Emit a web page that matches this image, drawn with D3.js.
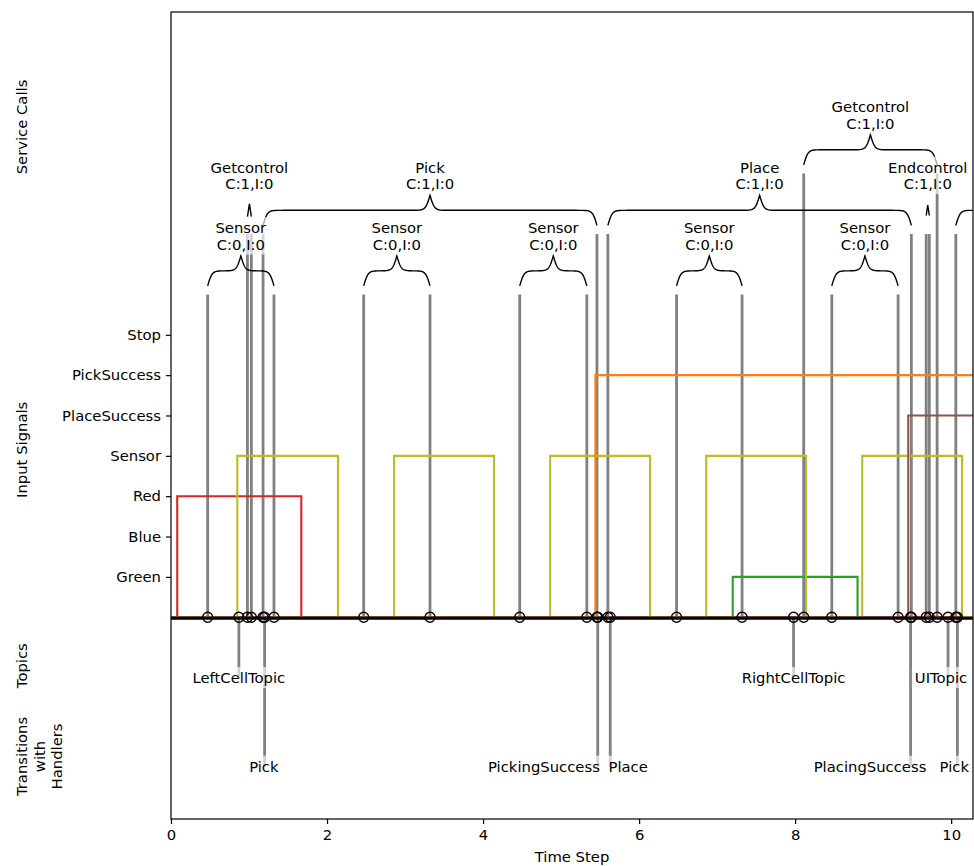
<!DOCTYPE html>
<meta charset="utf-8">
<style>
html, body { margin: 0; padding: 0; background: #fff; }
svg { display: block; font-family: "DejaVu Sans", sans-serif; }
text { font-size: 14.8px; fill: #000; }
</style>
<svg width="974" height="866"></svg>
<script src="https://cdn.jsdelivr.net/npm/d3@7"></script>
<script>
// input signals, one level per y tick
const signalNames = ['Green', 'Blue', 'Red', 'Sensor', 'PlaceSuccess', 'PickSuccess', 'Stop'];
const signalLevels = [1, 2, 3, 4, 5, 6, 7];
// on intervals [rise, fall] of every signal
const greenOn = [[7.2, 8.8]];
const blueOn = [];
const redOn = [[0.08, 1.67]];
const sensorOn = [[0.85, 2.14], [2.86, 4.14], [4.86, 6.14], [6.86, 8.14], [8.86, 10.14]];
const placeSuccessOn = [[9.45, 12]];
const pickSuccessOn = [[5.44, 12]];
const stopOn = [];

// service calls
const callNames = ['Sensor', 'Getcontrol', 'Pick', 'Sensor', 'Sensor', 'Place', 'Sensor', 'Getcontrol', 'Sensor', 'Endcontrol', 'Pick'];
const callStart = [0.47, 0.98, 1.18, 2.47, 4.47, 5.60, 6.48, 8.11, 8.47, 9.68, 10.06];
const callEnd = [1.32, 1.03, 5.46, 3.32, 5.33, 9.49, 7.32, 9.82, 9.32, 9.72, 14.4];
const callTop = [8, 9.5, 9.5, 8, 8, 9.5, 8, 11, 8, 9.5, 9.5];
const callC = [0, 1, 1, 0, 0, 1, 0, 1, 0, 1, 1];
const callI = [0, 0, 0, 0, 0, 0, 0, 0, 0, 0, 0];

// topics
const topicNames = ['LeftCellTopic', 'RightCellTopic', 'UITopic'];
const topicTimes = [0.87, 7.98, 9.96];
const topicLabelX = [0.87, 7.98, 9.87];

// transitions with handlers
const transNames = ['Pick', 'PickingSuccess', 'Place', 'PlacingSuccess', 'Pick'];
const transTimes = [1.20, 5.47, 5.63, 9.48, 10.08];
const transLabelX = [1.19, 4.78, 5.86, 8.96, 10.04];

const xTicks = [0, 2, 4, 6, 8, 10];

const svg = d3.select('svg');
const margin = { top: 12, right: 1, bottom: 47, left: 171 };
const width = +svg.attr('width') - margin.left - margin.right;
const height = +svg.attr('height') - margin.top - margin.bottom;

const x = d3.scaleLinear().domain([0, 10.28]).range([0, width]);
const y = d3.scaleLinear().domain([-5, 15]).range([height, 0]);

const g = svg.append('g').attr('transform', `translate(${margin.left},${margin.top})`);

svg.append('defs').append('clipPath').attr('id', 'plot')
  .append('rect').attr('width', width).attr('height', height);

const plot = g.append('g').attr('clip-path', 'url(#plot)');

const topicY = -1.5, transY = -3.7;

// event lines
const calls = callNames.map((n, i) => ({ name: n, a: callStart[i], b: callEnd[i], top: callTop[i], c: callC[i], e: callI[i] }));
const vlines = [];
calls.forEach(d => { vlines.push([d.a, d.top]); vlines.push([d.b, d.top]); });
topicTimes.forEach(t => vlines.push([t, topicY]));
transTimes.forEach(t => vlines.push([t, transY]));

plot.append('g')
  .selectAll('line')
  .data(vlines)
  .join('line')
  .attr('x1', d => x(d[0]))
  .attr('x2', d => x(d[0]))
  .attr('y1', y(0))
  .attr('y2', d => y(d[1]))
  .attr('stroke', 'gray')
  .attr('stroke-width', 2.8);

// signal step lines
const signalOn = [greenOn, blueOn, redOn, sensorOn, placeSuccessOn, pickSuccessOn, stopOn];
const stepColors = ['#2ca02c', '#1f77b4', '#d62728', '#bcbd22', '#8c564b', '#ff7f0e', '#e377c2'];
function stepPoints(intervals, level) {
  const pts = [[0, 0]];
  intervals.forEach(([a, b]) => { pts.push([a, 0], [a, level], [b, level], [b, 0]); });
  pts.push([12, 0]);
  return pts;
}
const line = d3.line().x(d => x(d[0])).y(d => y(d[1]));
const drawOrder = [1, 6, 0, 2, 3, 5, 4];
drawOrder.forEach(i => {
  plot.append('path')
    .attr('d', line(stepPoints(signalOn[i], signalLevels[i])))
    .attr('fill', 'none')
    .attr('stroke', stepColors[i])
    .attr('stroke-width', 2.1);
});

// baseline
plot.append('line')
  .attr('x1', 0).attr('x2', width)
  .attr('y1', y(0) + 1).attr('y2', y(0) + 1)
  .attr('stroke', '#000')
  .attr('stroke-width', 3);

// event markers
const marks = [];
calls.forEach(d => { marks.push(d.a, d.b); });
topicTimes.forEach(t => marks.push(t));
transTimes.forEach(t => marks.push(t));
plot.append('g')
  .selectAll('circle')
  .data(marks)
  .join('circle')
  .attr('cx', d => x(d))
  .attr('cy', y(0))
  .attr('r', 5)
  .attr('fill', 'none')
  .attr('stroke', '#000')
  .attr('stroke-width', 1.3);

// curly braces over each call
const beta = 36, amp = 0.745;
const sig = v => 1 / (1 + Math.exp(-v));
function bracePoints(x0, x1, base) {
  const n = (x1 - x0) < 0.1 ? 3 : 301;
  const xs = d3.range(n).map(i => x0 + (x1 - x0) * i / (n - 1));
  const xh = xs.slice(0, Math.floor(n / 2) + 1);
  const xa = xh[0], xb = xh[xh.length - 1];
  const yh = xh.map(v => sig(beta * (v - xa)) + sig(beta * (v - xb)));
  const ys = yh.concat(yh.slice(0, -1).reverse());
  return xs.map((v, i) => [v, base + amp * ys[i]]);
}
plot.append('g')
  .selectAll('path')
  .data(calls)
  .join('path')
  .attr('d', d => line(bracePoints(d.a, d.b, d.top - 0.16)))
  .attr('fill', 'none')
  .attr('stroke', '#000')
  .attr('stroke-width', 1.4);

// text with a translucent white box
function boxedText(parent, px, py, lines) {
  const t = parent.append('g');
  const txt = t.append('text').attr('text-anchor', 'middle');
  lines.forEach((s, i) => {
    txt.append('tspan')
      .attr('x', px)
      .attr('y', py - (lines.length - 1 - i) * 16.5)
      .attr('dy', '0.35em')
      .text(s);
  });
  const bb = txt.node().getBBox();
  t.insert('rect', 'text')
    .attr('x', bb.x - 3).attr('y', bb.y - 2)
    .attr('width', bb.width + 6).attr('height', bb.height + 4)
    .attr('fill', '#fff')
    .attr('fill-opacity', 0.65);
}

const labels = g.append('g');
calls.forEach(d => {
  const cx = (d.a + d.b) / 2;
  if (cx > x.domain()[1]) return; // label falls outside the figure
  boxedText(labels, x(cx), y(d.top - 0.16 + 1.4), [d.name, `C:${d.c},I:${d.e}`]);
});
topicNames.forEach((n, i) => boxedText(labels, x(topicLabelX[i]), y(topicY), [n]));
transNames.forEach((n, i) => boxedText(labels, x(transLabelX[i]), y(transY), [n]));

// frame
g.append('rect')
  .attr('width', width).attr('height', height)
  .attr('fill', 'none')
  .attr('stroke', '#000')
  .attr('stroke-width', 1.2);

// axes
const yAxis = g.append('g')
  .call(d3.axisLeft(y).tickValues(signalLevels).tickFormat((d, i) => signalNames[i]).tickSize(5).tickPadding(5));
const xAxis = g.append('g')
  .attr('transform', `translate(0,${height})`)
  .call(d3.axisBottom(x).tickValues(xTicks).tickFormat(d3.format('d')).tickSize(5).tickPadding(5));
[yAxis, xAxis].forEach(a => {
  a.attr('font-family', null).attr('font-size', null);
  a.select('.domain').remove();
  a.selectAll('.tick line').attr('stroke', '#000').attr('stroke-width', 1.2);
  a.selectAll('.tick text').attr('fill', '#000');
});

svg.append('text')
  .attr('x', margin.left + width / 2)
  .attr('y', 857)
  .attr('dy', '0.35em')
  .attr('text-anchor', 'middle')
  .text('Time Step');

// section labels on the left
const sectionNames = [['Service Calls'], ['Input Signals'], ['Topics'], ['Transitions', 'with', 'Handlers']];
const sectionY = [12.15, 4.15, -1.2, -3.45];
sectionNames.forEach((lines, i) => {
  const cy = margin.top + y(sectionY[i]);
  const txt = svg.append('text')
    .attr('text-anchor', 'middle')
    .attr('transform', `translate(22,${cy}) rotate(-90)`);
  lines.forEach((s, j) => {
    txt.append('tspan').attr('x', 0).attr('y', j * 17.5).attr('dy', '0.35em').text(s);
  });
});
</script>
